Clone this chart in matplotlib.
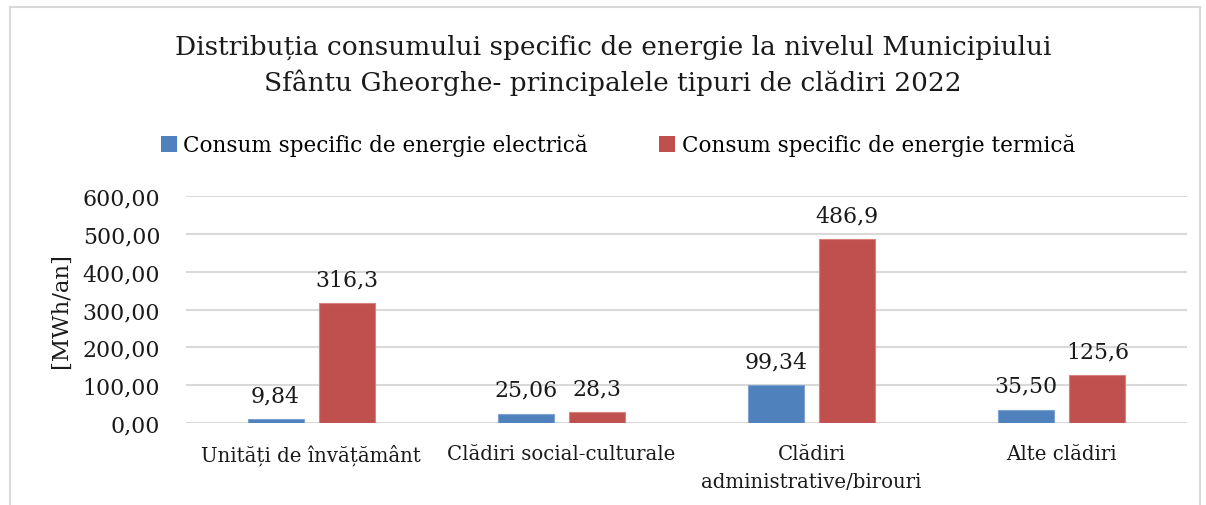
import matplotlib
matplotlib.use("Agg")
import matplotlib.pyplot as plt
import numpy as np
from matplotlib.lines import Line2D
from matplotlib.patches import Patch

categories = ["Unități de învățământ", "Clădiri social-culturale",
              "Clădiri\nadministrative/birouri", "Alte clădiri"]
electric = [9.84, 25.06, 99.34, 35.50]
thermal = [316.3, 28.3, 486.9, 125.6]
electric_labels = ["9,84", "25,06", "99,34", "35,50"]
thermal_labels = ["316,3", "28,3", "486,9", "125,6"]
yticks = [0, 100, 200, 300, 400, 500, 600]
ytick_labels = ["0,00", "100,00", "200,00", "300,00", "400,00", "500,00", "600,00"]
series_names = ["Consum specific de energie electrică", "Consum specific de energie termică"]
title = "Distribuția consumului specific de energie la nivelul Municipiului\nSfântu Gheorghe- principalele tipuri de clădiri 2022"

plt.rcParams['font.family'] = ['DejaVu Serif']
BLUE = "#4f81bd"
RED = "#c0504d"
GRID = "#d9d9d9"
TXT = "#1a1a1a"

W, H = 1206, 506
fig = plt.figure(figsize=(W / 100, H / 100), dpi=100)
ax = fig.add_axes([186 / W, 1 - 424 / H, (1187 - 186) / W, (424 - 197) / H])

x = np.arange(len(categories))
bw = 0.224
off = 0.142
ax.bar(x - off, electric, bw, color=BLUE, edgecolor="#7ea3d3", linewidth=0.8, zorder=3)
ax.bar(x + off, thermal, bw, color=RED, edgecolor="#d8827f", linewidth=0.8, zorder=3)

fs_lab = 15.8
lab_off = 63
for xi, v, t in zip(x, electric, electric_labels):
    ax.text(xi - off, v + lab_off, t, ha="center", va="center", fontsize=fs_lab, color=TXT)
for xi, v, t in zip(x, thermal, thermal_labels):
    ax.text(xi + off, v + lab_off, t, ha="center", va="center", fontsize=fs_lab, color=TXT)

ax.set_xlim(-0.5, len(categories) - 0.5)
ax.set_ylim(0, 600)
ax.set_yticks(yticks)
ax.set_yticklabels(ytick_labels, fontsize=15.8, color=TXT)
ax.set_xticks(x)
ax.set_xticklabels(categories, fontsize=14.2, color=TXT, linespacing=1.6)
ax.tick_params(axis="y", length=0, pad=18.5)
ax.tick_params(axis="x", length=0, pad=15)
ax.grid(axis="y", color=GRID, linewidth=1.5, zorder=0)
for s in ax.spines.values():
    s.set_visible(False)
ax.set_ylabel("[MWh/an]", fontsize=16.4, color=TXT)
ax.yaxis.set_label_coords((72 - 186) / (1187 - 186), 0.5)

fig.text(613 / W, 1 - 65 / H, title, ha="center", va="center", fontsize=19,
         color=TXT, linespacing=1.45)

handles = [Patch(facecolor=BLUE), Patch(facecolor=RED)]
fig.legend(handles, series_names, loc="center", bbox_to_anchor=(618 / W, 1 - 146 / H),
           ncol=2, frameon=False, fontsize=15.5, handlelength=0.75, handleheight=0.75,
           handletextpad=0.3, columnspacing=3.3)

# light frame around chart area
fig.add_artist(Line2D([10 / W, 10 / W], [0, 1 - 8 / H], color=GRID, linewidth=1.5))
fig.add_artist(Line2D([10 / W, 1200 / W], [1 - 8 / H, 1 - 8 / H], color=GRID, linewidth=1.5))
fig.add_artist(Line2D([1200 / W, 1200 / W], [0, 1 - 8 / H], color=GRID, linewidth=1.5))

fig.savefig("out.png", dpi=100)
